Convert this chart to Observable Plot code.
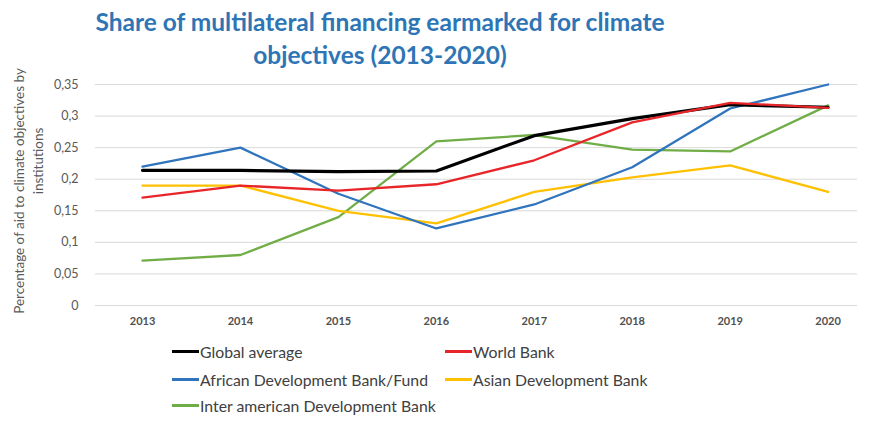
<!DOCTYPE html>
<html><head><meta charset="utf-8">
<script src="https://cdn.jsdelivr.net/npm/d3@7"></script>
<script src="https://cdn.jsdelivr.net/npm/@observablehq/plot@0.6"></script>
<style>
body{margin:0;background:#fff;font-family:Lato,"Open Sans",sans-serif;width:872px;height:421px;overflow:hidden;position:relative}
#title{position:absolute;top:5px;left:0;width:760px;text-align:center;color:#2E75B6;font-weight:bold;font-size:24.5px;line-height:33px}
#chart{position:absolute;top:70px;left:0}
#legend{position:absolute;top:340px;left:0;width:872px;font-size:15.8px;color:#404040}
.li{position:absolute;display:flex;align-items:center;white-space:nowrap}
.sw{display:inline-block;width:27px;height:3px;margin-right:1px}
</style></head><body>
<div id="title">Share of multilateral financing earmarked for climate<br>objectives (2013-2020)</div>
<div id="chart"></div>
<div id="legend"></div>
<script>
const years = [2013, 2014, 2015, 2016, 2017, 2018, 2019, 2020];
const seriesNames = ["Global average", "World Bank", "African Development Bank/Fund", "Asian Development Bank", "Inter american Development Bank"];
const globalAverage = [0.214, 0.214, 0.212, 0.213, 0.269, 0.296, 0.318, 0.314];
const worldBank = [0.171, 0.190, 0.182, 0.192, 0.230, 0.290, 0.321, 0.313];
const africanDB = [0.220, 0.250, 0.177, 0.122, 0.160, 0.219, 0.312, 0.350];
const asianDB = [0.190, 0.190, 0.150, 0.130, 0.180, 0.203, 0.222, 0.180];
const interAmericanDB = [0.071, 0.080, 0.140, 0.260, 0.270, 0.247, 0.244, 0.317];
const yTicks = [0, 0.05, 0.1, 0.15, 0.2, 0.25, 0.3, 0.35];
const yTitleLine1 = "Percentage of aid to climate objectives by";
const yTitleLine2 = "institutions";
const colors = ["#000000", "#E8262A", "#2F74BD", "#FFC000", "#70AD47"];
const widths = [3.2, 2.3, 2.3, 2.3, 2.3];

const allSeries = [globalAverage, worldBank, africanDB, asianDB, interAmericanDB];
const data = [];
const order = [4, 3, 2, 0, 1];
order.forEach(i => years.forEach((y, j) => data.push({series: seriesNames[i], year: y, value: allSeries[i][j]})));

const fmt = v => String(+v.toFixed(2)).replace(".", ",");

const marks = [
  Plot.ruleY(yTicks, {stroke: "#d9d9d9", strokeWidth: 1}),
  Plot.axisY({ticks: yTicks, tickFormat: fmt, tickSize: 0, tickPadding: 17, fontSize: 12.5, fill: "#595959", label: null}),
  Plot.axisX({ticks: years, tickFormat: d => String(d), tickSize: 0, tickPadding: 12, fontSize: 11, fontWeight: "bold", fill: "#505050", label: null}),
  Plot.text([yTitleLine1], {text: d => d, frameAnchor: "left", textAnchor: "middle", dx: -76, dy: -4, rotate: -90, fontSize: 13.5, fill: "#595959"}),
  Plot.text([yTitleLine2], {text: d => d, frameAnchor: "left", textAnchor: "middle", dx: -57, dy: -34, rotate: -90, fontSize: 13.5, fill: "#595959"}),
  ...order.map(i => Plot.line(data.filter(d => d.series === seriesNames[i]), {x: "year", y: "value", stroke: colors[i], strokeWidth: widths[i], curve: "linear"}))
];

const chart = Plot.plot({
  width: 872, height: 270,
  marginLeft: 95, marginRight: 15, marginTop: 14, marginBottom: 35,
  style: {fontFamily: "Lato, 'Open Sans', sans-serif", background: "#fff", overflow: "visible"},
  x: {type: "linear", domain: [2012.52, 2020.3], label: null},
  y: {domain: [0, 0.35], label: null},
  marks
});
document.getElementById("chart").appendChild(chart);

const pos = [[172, 13], [445, 13], [172, 41], [445, 41], [172, 67]];
const lg = document.getElementById("legend");
seriesNames.forEach((n, i) => {
  const el = document.createElement("div");
  el.className = "li";
  el.style.left = pos[i][0] + "px";
  el.style.top = (pos[i][1] - 11) + "px";
  el.innerHTML = `<span class="sw" style="background:${colors[i]}"></span><span>${n}</span>`;
  lg.appendChild(el);
});
</script>
</body></html>
